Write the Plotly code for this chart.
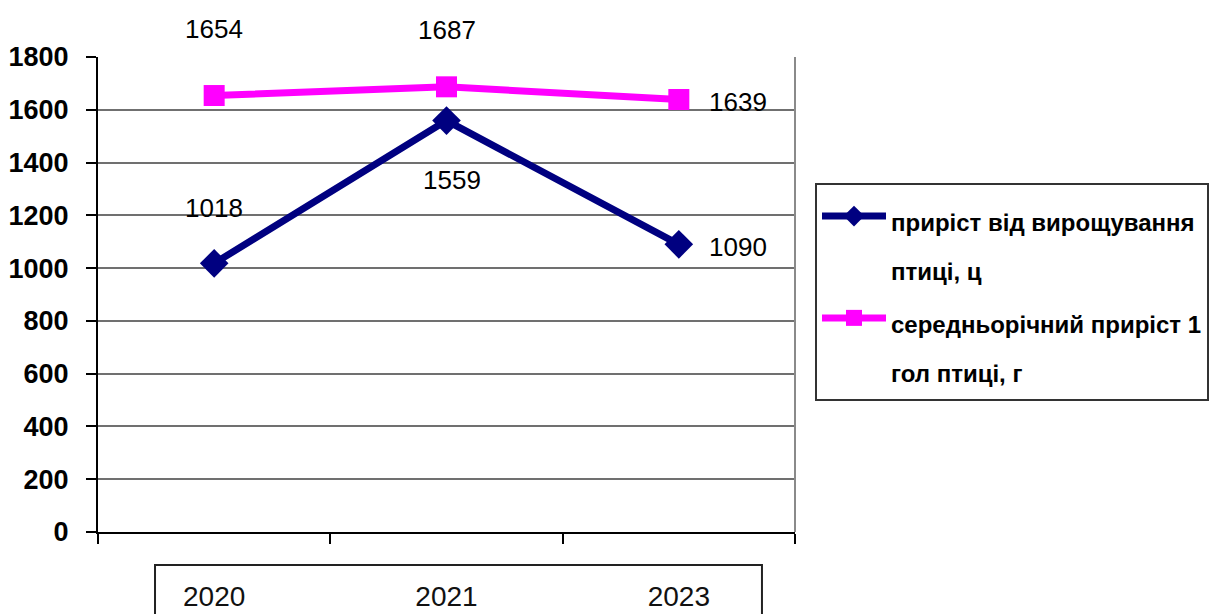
import plotly.graph_objects as go

years = ["2020", "2021", "2023"]
growth_total = [1018, 1559, 1090]      # приріст від вирощування птиці, ц
growth_per_head = [1654, 1687, 1639]   # середньорічний приріст 1 гол птиці, г
y_ticks = [0, 200, 400, 600, 800, 1000, 1200, 1400, 1600, 1800]

LEG_SPAN = '<span style="font-size:24px">{}</span>'
name_total = LEG_SPAN.format("приріст від вирощування") + "<br>" + LEG_SPAN.format("птиці, ц")
name_head = LEG_SPAN.format("середньорічний приріст 1") + "<br>" + LEG_SPAN.format("гол птиці, г")

# label offsets in px (style only)
off_total = [(0, 55), (5, -59), (59, -3)]
off_head = [(0, 67), (0, 57), (59, -3)]

FONT = "Liberation Sans, Arial, sans-serif"

fig = go.Figure()
fig.add_trace(go.Scatter(
    x=years, y=growth_total, name=name_total, mode="lines+markers",
    line=dict(color="#000080", width=7),
    marker=dict(symbol="diamond", size=22, color="#000080"),
    legendgroup="a",
))
fig.add_trace(go.Scatter(
    x=years, y=growth_per_head, name=name_head, mode="lines+markers",
    line=dict(color="#FF00FF", width=7),
    marker=dict(symbol="square", size=21, color="#FF00FF"),
    legendgroup="b",
))

for ys, offs in [(growth_total, off_total), (growth_per_head, off_head)]:
    for i, (y, (dx, dy)) in enumerate(zip(ys, offs)):
        fig.add_annotation(x=i, y=y, xref="x", yref="y", text=str(y),
                           showarrow=False, xshift=dx, yshift=dy,
                           font=dict(family=FONT, size=26, color="black"))

# box around category labels
fig.add_shape(type="path", xref="paper", yref="paper",
              path="M 0.0818 -0.35 L 0.0818 -0.0695 L 0.9526 -0.0695 L 0.9526 -0.35",
              line=dict(color="#222", width=2))
# right border of plot area
fig.add_shape(type="line", xref="paper", yref="paper", x0=1, x1=1, y0=0, y1=1,
              line=dict(color="#8a8a8a", width=2))

fig.update_layout(
    template="none",
    width=1225, height=614,
    margin=dict(l=98, r=430, t=57, b=82),
    paper_bgcolor="white", plot_bgcolor="white",
    font=dict(family=FONT, color="black"),
    showlegend=True,
    legend=dict(
        x=1.0287, y=0.735, xanchor="left", yanchor="top",
        bordercolor="#333", borderwidth=2, bgcolor="white",
        font=dict(family=FONT, size=38, color="black", weight="bold"),
        valign="top", itemwidth=64, tracegroupgap=0,
    ),
    xaxis=dict(
        type="category", range=[-0.5, 2.5], categoryorder="array", categoryarray=years,
        showgrid=False, showline=True, linecolor="black", linewidth=2,
        ticks="outside", tickson="boundaries", ticklen=10, tickcolor="black", tickwidth=2,
        tickfont=dict(family=FONT, size=28, color="#111"),
        ticklabelstandoff=38, automargin=False,
        zeroline=False,
    ),
    yaxis=dict(
        range=[0, 1800], tickvals=y_ticks,
        showgrid=True, gridcolor="#707070", gridwidth=2,
        showline=True, linecolor="black", linewidth=2,
        ticks="outside", ticklen=10, tickcolor="black", tickwidth=2,
        tickfont=dict(family=FONT, size=27, color="black", weight="bold"),
        ticklabelstandoff=12,
        automargin=False, zeroline=False,
    ),
)

fig.write_html("out.html")
